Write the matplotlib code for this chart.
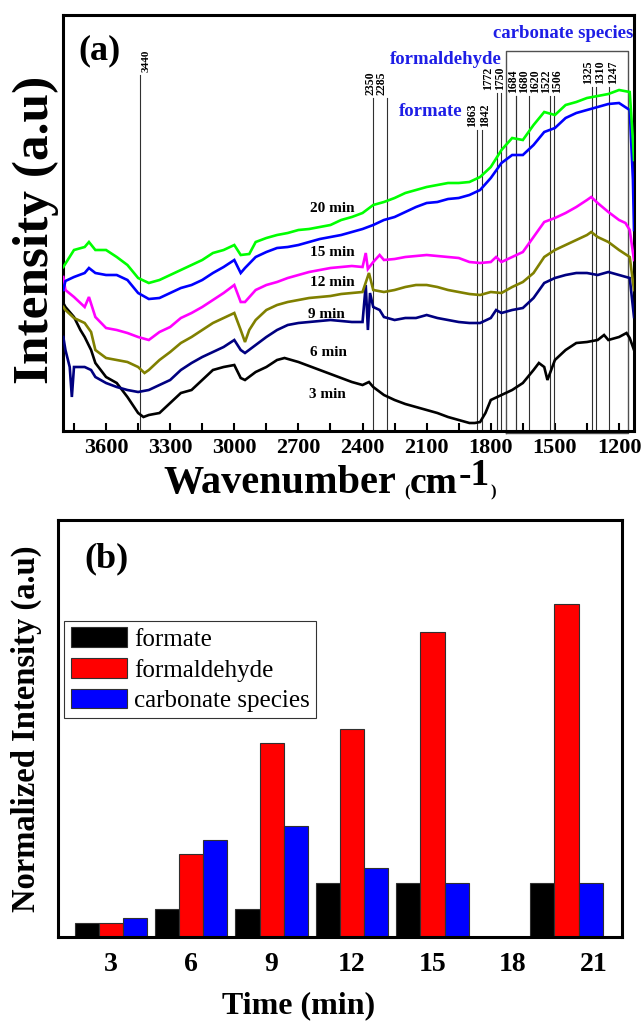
import matplotlib
matplotlib.use("Agg")
import matplotlib.pyplot as plt

plt.rcParams['font.family'] = ['Liberation Serif', 'DejaVu Serif']

# ---------------- (a) in-situ spectra: (wavenumber, intensity) ----------------
spec_3min = [(3800, 1.28), (3790, 1.24), (3750, 1.14), (3720, 1.01), (3700, 0.94), (3670, 0.81),
             (3650, 0.68), (3600, 0.54), (3550, 0.48), (3500, 0.34), (3450, 0.18), (3425, 0.14),
             (3400, 0.16), (3350, 0.18), (3300, 0.28), (3250, 0.38), (3200, 0.41), (3150, 0.51),
             (3100, 0.61), (3050, 0.64), (3000, 0.66), (2970, 0.53), (2950, 0.51), (2900, 0.59),
             (2850, 0.64), (2800, 0.71), (2765, 0.73), (2700, 0.69), (2650, 0.65), (2600, 0.61),
             (2550, 0.57), (2500, 0.53), (2450, 0.49), (2400, 0.46), (2370, 0.49), (2350, 0.44),
             (2300, 0.36), (2250, 0.31), (2200, 0.27), (2150, 0.24), (2100, 0.21), (2050, 0.18),
             (2000, 0.14), (1950, 0.11), (1900, 0.08), (1875, 0.08), (1850, 0.09), (1825, 0.18),
             (1800, 0.31), (1750, 0.36), (1700, 0.41), (1650, 0.48), (1600, 0.61), (1575, 0.68),
             (1550, 0.64), (1535, 0.51), (1500, 0.71), (1450, 0.81), (1400, 0.88), (1350, 0.89),
             (1300, 0.91), (1270, 0.96), (1250, 0.91), (1200, 0.94), (1165, 0.98), (1150, 0.93),
             (1130, 0.81)]

spec_6min = [(3800, 0.94), (3790, 0.81), (3770, 0.64), (3760, 0.34), (3750, 0.64), (3700, 0.64),
             (3670, 0.61), (3650, 0.54), (3600, 0.48), (3550, 0.44), (3500, 0.41), (3450, 0.39),
             (3400, 0.41), (3350, 0.46), (3300, 0.51), (3250, 0.61), (3200, 0.68), (3150, 0.74),
             (3100, 0.79), (3050, 0.84), (3000, 0.91), (2970, 0.81), (2950, 0.78), (2900, 0.86),
             (2850, 0.94), (2800, 1.01), (2750, 1.06), (2700, 1.08), (2650, 1.09), (2600, 1.10),
             (2550, 1.11), (2500, 1.10), (2450, 1.09), (2400, 1.09), (2385, 1.46), (2375, 1.01),
             (2365, 1.38), (2350, 1.24), (2320, 1.21), (2300, 1.14), (2250, 1.11), (2200, 1.13),
             (2150, 1.13), (2100, 1.16), (2050, 1.13), (2000, 1.11), (1950, 1.09), (1900, 1.08),
             (1850, 1.08), (1800, 1.13), (1775, 1.21), (1750, 1.18), (1700, 1.21), (1650, 1.23),
             (1600, 1.33), (1550, 1.48), (1500, 1.53), (1450, 1.56), (1400, 1.58), (1350, 1.58),
             (1300, 1.56), (1250, 1.59), (1200, 1.56), (1150, 1.53), (1130, 1.14)]

spec_9min = [(3800, 1.24), (3790, 1.21), (3750, 1.13), (3700, 1.08), (3670, 0.99), (3650, 0.81),
             (3600, 0.73), (3550, 0.71), (3500, 0.69), (3450, 0.64), (3420, 0.58), (3400, 0.61),
             (3350, 0.71), (3300, 0.79), (3250, 0.88), (3200, 0.94), (3150, 1.01), (3100, 1.08),
             (3050, 1.13), (3000, 1.18), (2970, 1.01), (2950, 0.89), (2930, 1.01), (2900, 1.11),
             (2850, 1.21), (2800, 1.26), (2750, 1.29), (2700, 1.31), (2650, 1.33), (2600, 1.34),
             (2550, 1.35), (2500, 1.37), (2450, 1.38), (2400, 1.39), (2370, 1.58), (2350, 1.41),
             (2300, 1.39), (2250, 1.41), (2200, 1.44), (2150, 1.46), (2100, 1.46), (2050, 1.44),
             (2000, 1.41), (1950, 1.39), (1900, 1.37), (1850, 1.36), (1800, 1.39), (1750, 1.38),
             (1700, 1.44), (1650, 1.49), (1600, 1.58), (1550, 1.74), (1500, 1.81), (1450, 1.86),
             (1400, 1.91), (1350, 1.96), (1330, 1.99), (1300, 1.94), (1250, 1.89), (1200, 1.81),
             (1150, 1.74), (1130, 1.41)]

spec_12min = [(3800, 1.54), (3790, 1.41), (3750, 1.34), (3700, 1.24), (3680, 1.34), (3650, 1.14),
              (3600, 1.03), (3550, 1.01), (3500, 0.98), (3450, 0.94), (3400, 0.91), (3350, 0.99),
              (3300, 1.04), (3250, 1.13), (3200, 1.18), (3150, 1.24), (3100, 1.31), (3050, 1.38),
              (3000, 1.46), (2970, 1.29), (2950, 1.29), (2900, 1.41), (2850, 1.46), (2800, 1.49),
              (2750, 1.53), (2700, 1.56), (2650, 1.59), (2600, 1.61), (2550, 1.63), (2500, 1.64),
              (2450, 1.65), (2400, 1.64), (2385, 1.78), (2375, 1.62), (2350, 1.69), (2320, 1.76),
              (2300, 1.71), (2250, 1.72), (2200, 1.74), (2150, 1.75), (2100, 1.76), (2050, 1.75),
              (2000, 1.74), (1950, 1.73), (1900, 1.69), (1850, 1.68), (1800, 1.69), (1775, 1.74),
              (1750, 1.69), (1700, 1.74), (1650, 1.79), (1600, 1.94), (1550, 2.09), (1500, 2.13),
              (1450, 2.18), (1400, 2.24), (1350, 2.31), (1330, 2.34), (1300, 2.28), (1250, 2.19),
              (1200, 2.11), (1170, 2.08), (1150, 2.01), (1130, 1.71)]

spec_15min = [(3800, 1.41), (3790, 1.50), (3750, 1.54), (3700, 1.58), (3680, 1.63), (3650, 1.58),
              (3600, 1.56), (3550, 1.56), (3500, 1.51), (3450, 1.38), (3400, 1.32), (3350, 1.33),
              (3300, 1.38), (3250, 1.43), (3200, 1.46), (3150, 1.51), (3100, 1.58), (3050, 1.64),
              (3000, 1.71), (2970, 1.58), (2950, 1.63), (2900, 1.74), (2850, 1.79), (2800, 1.83),
              (2750, 1.84), (2700, 1.86), (2650, 1.89), (2600, 1.92), (2550, 1.94), (2500, 1.96),
              (2450, 1.99), (2400, 2.02), (2350, 2.06), (2300, 2.11), (2250, 2.14), (2200, 2.19),
              (2150, 2.24), (2100, 2.28), (2050, 2.29), (2000, 2.32), (1950, 2.33), (1900, 2.36),
              (1850, 2.41), (1800, 2.53), (1750, 2.68), (1700, 2.76), (1650, 2.76), (1600, 2.86),
              (1550, 2.99), (1500, 3.03), (1450, 3.13), (1400, 3.18), (1350, 3.21), (1300, 3.24),
              (1250, 3.27), (1200, 3.28), (1150, 3.21), (1135, 2.51), (1130, 2.01)]

spec_20min = [(3800, 1.64), (3750, 1.81), (3700, 1.84), (3680, 1.89), (3650, 1.81), (3600, 1.81),
              (3550, 1.74), (3500, 1.66), (3450, 1.53), (3400, 1.48), (3350, 1.51), (3300, 1.56),
              (3250, 1.61), (3200, 1.66), (3150, 1.71), (3100, 1.78), (3050, 1.81), (3000, 1.86),
              (2970, 1.76), (2930, 1.77), (2900, 1.89), (2850, 1.93), (2800, 1.96), (2750, 1.98),
              (2700, 2.01), (2650, 2.02), (2600, 2.04), (2550, 2.06), (2500, 2.11), (2450, 2.14),
              (2400, 2.18), (2350, 2.26), (2300, 2.29), (2250, 2.33), (2200, 2.38), (2150, 2.41),
              (2100, 2.44), (2050, 2.46), (2000, 2.48), (1950, 2.48), (1900, 2.49), (1850, 2.54),
              (1800, 2.64), (1750, 2.81), (1700, 2.93), (1650, 2.91), (1600, 3.06), (1550, 3.19),
              (1500, 3.16), (1450, 3.26), (1400, 3.29), (1350, 3.33), (1300, 3.35), (1250, 3.37),
              (1200, 3.41), (1150, 3.39), (1135, 2.91), (1130, 2.71)]

spectra = [spec_3min, spec_6min, spec_9min, spec_12min, spec_15min, spec_20min]
spec_colors = ['#000000', '#000080', '#808000', '#ff00ff', '#0000ff', '#00ff00']
spec_labels = ['3 min', '6 min', '9 min', '12 min', '15 min', '20 min']

# band assignments (cm-1)
peaks = [3440, 2350, 2285, 1863, 1842, 1772, 1750, 1684, 1680, 1620, 1522, 1506, 1325, 1310, 1247]

# ---------------- (b) normalized band intensities ----------------
times = [3, 6, 9, 12, 15, 20]
formate = [0.042, 0.083, 0.083, 0.162, 0.162, 0.162]
formaldehyde = [0.040, 0.248, 0.581, 0.624, 0.915, 1.000]
carbonate = [0.055, 0.290, 0.332, 0.206, 0.162, 0.162]
time_ticks = [3, 6, 9, 12, 15, 18, 21]

W, H = 641, 1023
fig = plt.figure(figsize=(W / 100, H / 100), dpi=100)


def fx(x):
    return x / W


def fy(y):
    return 1 - y / H


BLUE_TXT = '#1e1ee6'

# ================= panel (a) =================
axA = fig.add_axes([fx(63.3), fy(430.7), fx(634) - fx(63.3), fy(15) - fy(430.7)])
axA.set_xlim(3800, 1130)
axA.set_ylim(0.003, 4.16)

for spec, col in zip(spectra, spec_colors):
    wn, val = zip(*spec)
    axA.plot(wn, val, color=col, lw=1.9, solid_joinstyle='miter', zorder=3)

# vertical assignment lines: top of line (intensity units) and label nudge (points)
line_tops = {3440: 3.56, 2350: 3.33, 2285: 3.33, 1863: 3.01, 1842: 3.01,
             1772: 3.38, 1750: 3.38, 1684: 3.35, 1680: 3.35, 1620: 3.35,
             1522: 3.35, 1506: 3.35, 1325: 3.44, 1310: 3.44, 1247: 3.44}
label_dx = {3440: 4, 2350: -2, 2285: -4, 1863: -4, 1842: 2, 1772: -6, 1750: -1,
            1684: -2, 1680: 5.5, 1620: 4.5, 1522: -3, 1506: 2.5, 1325: -3, 1310: 3.5,
            1247: 3}
for p in peaks:
    top = line_tops[p]
    axA.plot([p, p], [0.003, top], color='#303030', lw=0.8, zorder=2)
    axA.annotate(str(p), xy=(p, top), xytext=(label_dx[p], 2), textcoords='offset points',
                 rotation=90, ha='center', va='bottom', fontsize=8 if p == 3440 else 8.5,
                 fontweight='bold')

# bracket around carbonate region
axA.plot([1727, 1727, 1160, 1160, 1727], [-0.02, 3.80, 3.80, -0.02, -0.02],
         color='#505050', lw=1.0, clip_on=False, zorder=2)

axA.set_xticks([3600, 3300, 3000, 2700, 2400, 2100, 1800, 1500, 1200])
axA.set_xticks([3750, 3450, 3150, 2850, 2550, 2250, 1950, 1650, 1350], minor=True)
axA.set_yticks([])
axA.tick_params(axis='x', which='both', direction='in', length=6, width=1.5, pad=5,
                labelsize=16)
for lab in axA.get_xticklabels():
    lab.set_fontweight('bold')
for s in axA.spines.values():
    s.set_linewidth(2.2)

fig.text(fx(100), fy(51), '(a)', fontsize=26, fontweight='bold', ha='center', va='center')
fig.text(fx(36), fy(230), 'Intensity (a.u)', fontsize=37, fontweight='bold', rotation=90,
         ha='center', va='center')

# x-axis title assembled from pieces: small parentheses, raised "-1"
base_y = H - 493
t_main = fig.text(fx(163), fy(493), 'Wavenumber', fontsize=29, fontweight='bold',
                  ha='left', va='baseline')
t_lp = axA.annotate('(', xy=(1, base_y), xycoords=(t_main, 'figure pixels'),
                    xytext=(6, -2.5), textcoords='offset points', fontsize=12,
                    fontweight='bold', ha='left', va='baseline', annotation_clip=False)
t_cm = axA.annotate('cm', xy=(1, base_y), xycoords=(t_lp, 'figure pixels'),
                    xytext=(0, 0), textcoords='offset points', fontsize=27,
                    fontweight='bold', ha='left', va='baseline', annotation_clip=False)
t_ex = axA.annotate('-1', xy=(1, base_y), xycoords=(t_cm, 'figure pixels'),
                    xytext=(0.5, 6), textcoords='offset points', fontsize=27,
                    fontweight='bold', ha='left', va='baseline', annotation_clip=False)
axA.annotate(')', xy=(1, base_y), xycoords=(t_ex, 'figure pixels'),
             xytext=(1, -2.5), textcoords='offset points', fontsize=12,
             fontweight='bold', ha='left', va='baseline', annotation_clip=False)

# species annotations
fig.text(fx(431), fy(112), 'formate', color=BLUE_TXT, fontsize=13.5, fontweight='bold',
         ha='center', va='center')
fig.text(fx(446), fy(59), 'formaldehyde', color=BLUE_TXT, fontsize=13.5, fontweight='bold',
         ha='center', va='center')
fig.text(fx(563), fy(33), 'carbonate species', color=BLUE_TXT, fontsize=13.5,
         fontweight='bold', ha='center', va='center')

# time labels beside the spectra
time_label_pos = [(327, 394), (328, 352), (326, 315), (332, 282), (332, 252), (332, 209)]
for lab, (x, y) in zip(spec_labels, time_label_pos):
    fig.text(fx(x), fy(y), lab, fontsize=11, fontweight='bold', ha='center', va='center')

# ================= panel (b) =================
axB = fig.add_axes([fx(58), fy(936.7), fx(621.7) - fx(58), fy(520) - fy(936.7)])
axB.set_xlim(1.03, 22.06)
axB.set_ylim(0, 1.251)
bw = 0.9
xs = list(times)
axB.bar([t - bw for t in xs], formate, width=bw, color='#000000', edgecolor='#303030',
        lw=0.8, label='formate')
axB.bar(xs, formaldehyde, width=bw, color='#ff0000', edgecolor='#303030', lw=0.8,
        label='formaldehyde')
axB.bar([t + bw for t in xs], carbonate, width=bw, color='#0000ff', edgecolor='#303030',
        lw=0.8, label='carbonate species')
axB.set_xticks(time_ticks)
axB.set_yticks([])
axB.tick_params(axis='x', length=0, pad=11, labelsize=20)
for lab in axB.get_xticklabels():
    lab.set_fontweight('bold')
for s in axB.spines.values():
    s.set_linewidth(2.2)

leg = axB.legend(loc='upper left', bbox_to_anchor=(fx(64.3), fy(621)),
                 bbox_transform=fig.transFigure, fontsize=18, frameon=True, fancybox=False,
                 borderaxespad=0, borderpad=0.25, labelspacing=0.28, handlelength=2.25,
                 handleheight=0.85, handletextpad=0.3)
leg.get_frame().set_edgecolor('#000000')
leg.get_frame().set_linewidth(0.8)

fig.text(fx(106), fy(559), '(b)', fontsize=26, fontweight='bold', ha='center', va='center')
fig.text(fx(26), fy(729), 'Normalized Intensity (a.u)', fontsize=23.5, fontweight='bold',
         rotation=90, ha='center', va='center')
fig.text(fx(299), fy(1006), 'Time (min)', fontsize=23, fontweight='bold', ha='center',
         va='center')

fig.savefig('out.png', dpi=100, facecolor='white')
